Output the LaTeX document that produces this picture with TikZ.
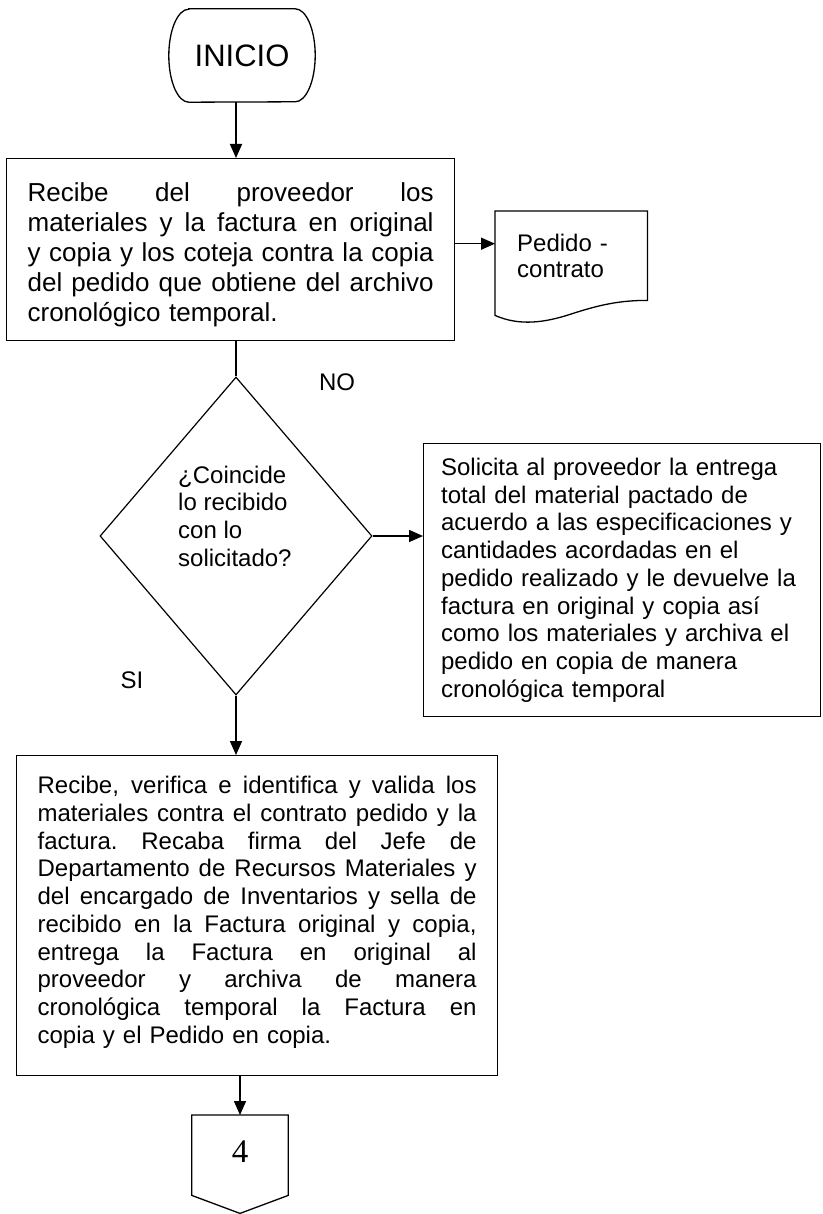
\documentclass[tikz,border=0pt]{standalone}
\usepackage{fontspec}
\setmainfont{Liberation Sans}
\newfontfamily\serifnum{Liberation Serif}
\usetikzlibrary{shapes.geometric,arrows.meta,positioning,calc}
\newcommand\jl[1]{\par\noindent\hbox to\hsize{\spaceskip=.278em plus 1fil\xspaceskip=\spaceskip #1}\par}
\newcommand\lastl[1]{\par\noindent\hbox to\hsize{#1\hfil}\par}

\begin{document}
\begin{tikzpicture}[x=1pt,y=-1pt,font=\fontsize{24}{27.7}\selectfont,
  box/.style={rectangle,draw,line width=1.2pt,inner xsep=21pt,inner ysep=0pt,anchor=north west},
  shp/.style={line width=1.3pt},
  lbl/.style={inner sep=0pt},
  arr/.style={-{Triangle[length=14pt,width=12pt]},line width=1.6pt}]
\useasboundingbox (0,0) rectangle (822,1214);
\node[minimum width=146pt,minimum height=93pt,inner sep=0pt,font=\fontsize{31}{36}\selectfont] (ini) at (242,55.5) {INICIO};
\draw[shp] ([xshift=20pt]ini.north west) -- ([xshift=-20pt]ini.north east)
  arc[start angle=90,end angle=-90,x radius=20pt,y radius=46.5pt]
  -- ([xshift=20pt]ini.south west)
  arc[start angle=270,end angle=90,x radius=20pt,y radius=46.5pt] -- cycle;
\node[box,text width=406pt,minimum height=182pt,font=\fontsize{26}{30}\selectfont] (rec) at (6,158)
  {\jl{Recibe del proveedor los}\jl{materiales y la factura en original}\jl{y copia y los coteja contra la copia}\jl{del pedido que obtiene del archivo}\lastl{cronológico temporal.}};
\node[anchor=north west,inner xsep=22pt,inner ysep=0pt,text width=108pt,minimum height=89pt,align=left,font=\fontsize{24}{25.5}\selectfont] (ped) at (495,211) {Pedido -\\contrato};
\draw[shp] (ped.north west) -- (ped.north east) -- (ped.south east)
  .. controls ($(ped.south east)+(-27,0)$) and ($(ped.south east)+(-47,4)$) .. ($(ped.south west)+(75,14)$)
  .. controls ($(ped.south west)+(50,22)$) and ($(ped.south west)+(25,26)$) .. ($(ped.south west)+(0,15)$) -- cycle;
\coordinate (pin) at ($(ped.west)+(0,-12)$);
\node[diamond,draw,line width=1.2pt,minimum width=272pt,minimum height=318pt,inner sep=0pt] (dec) at (236,536) {};
\node[lbl,align=left,anchor=west] (dectx) at (178,516) {¿Coincide\\lo recibido\\con lo\\solicitado?};
\node[lbl] (no) at (337,382) {NO};
\node[lbl] (si) at (132,680) {SI};
\node[box,align=left,inner xsep=17.5pt,text width=362pt,minimum height=273pt] (sol) at (423,443)
  {Solicita al proveedor la entrega\\total del material pactado de\\acuerdo a las especificaciones y\\cantidades acordadas en el\\pedido realizado y le devuelve la\\factura en original y copia así\\como los materiales y archiva el\\pedido en copia de manera\\cronológica temporal};
\node[box,text width=439pt,minimum height=320pt] (val) at (16,755)
  {\jl{Recibe, verifica e identifica y valida los}\jl{materiales contra el contrato pedido y la}\jl{factura. Recaba firma del Jefe de}\jl{Departamento de Recursos Materiales y}\jl{del encargado de Inventarios y sella de}\jl{recibido en la Factura original y copia,}\jl{entrega la Factura en original al}\jl{proveedor y archiva de manera}\jl{cronológica temporal la Factura en}\lastl{copia y el Pedido en copia.\rule[-22pt]{0pt}{1pt}}};
\node[minimum width=96pt,minimum height=80pt,inner sep=0pt,anchor=north,font=\serifnum\fontsize{33}{33}\selectfont] (pag) at (240,1115) {\raisebox{8pt}{4}};
\draw[shp] (pag.north west) -- (pag.north east) -- (pag.south east) -- ([yshift=-18pt]pag.south) -- (pag.south west) -- cycle;
\draw[arr] (dec.north |- ini.south) -- (dec.north |- rec.north);
\draw[arr] (rec.east |- pin) -- (pin);
\draw[line width=1.6pt] (dec.north |- rec.south) -- (dec.north);
\draw[arr] (dec.east) -- (dec.east -| sol.west);
\draw[arr] (dec.south) -- (dec.south |- val.north);
\draw[arr] (pag.north |- val.south) -- (pag.north);
\end{tikzpicture}
\end{document}
